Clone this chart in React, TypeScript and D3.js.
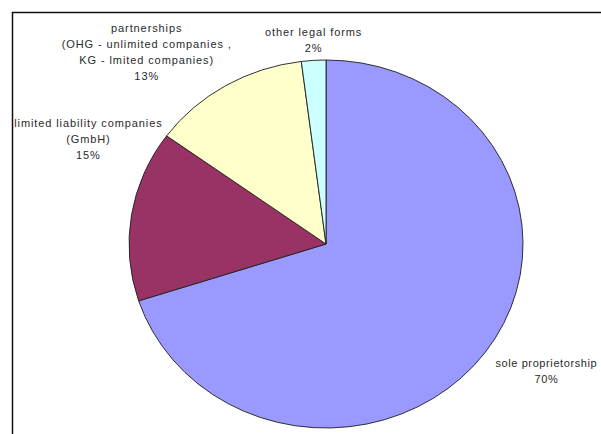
import React, { useEffect, useRef } from "react";
import * as d3 from "d3";

// legal forms, clockwise from 12 o'clock
const categories = [
  "sole proprietorship",
  "limited liability companies",
  "partnerships",
  "other legal forms",
];
const shares = [70, 15, 13, 2];
const labelLines = [
  ["sole proprietorship", "70%"],
  ["limited liability companies", "(GmbH)", "15%"],
  ["partnerships", "(OHG - unlimited companies ,", "KG - lmited companies)", "13%"],
  ["other legal forms", "2%"],
];
const colors = ["#9999ff", "#993366", "#ffffcc", "#ccffff"];

const W = 601;
const H = 434;

const App: React.FC = () => {
  const svgRef = useRef<SVGSVGElement>(null);

  useEffect(() => {
    if (!svgRef.current) return;
    const svg = d3.select(svgRef.current);
    svg.selectAll("*").remove();

    svg.append("rect").attr("width", W).attr("height", H).attr("fill", "#fff");

    // chart frame (only top and left edges are visible)
    svg.append("path")
      .attr("d", `M12.5,${H} L12.5,12.5 L${W},12.5`)
      .attr("fill", "none")
      .attr("stroke", "#111")
      .attr("stroke-width", 1.5);

    const cx = 326;
    const cy = 244;
    const r = 184;
    const sx = 197 / 184; // the pie is slightly wider than tall

    const pie = d3.pie<number>().sort(null).value(d => d);
    const arcs = pie(shares);
    const arc = d3.arc<d3.PieArcDatum<number>>().innerRadius(0).outerRadius(r);

    const g = svg.append("g")
      .attr("transform", `translate(${cx},${cy}) scale(${sx},1)`);

    g.selectAll("path")
      .data(arcs)
      .enter()
      .append("path")
      .attr("d", arc)
      .attr("fill", (_, i) => colors[i])
      .attr("stroke", "#222")
      .attr("stroke-width", 0.9)
      .attr("stroke-linejoin", "round");

    // label placement relative to the outer edge at each slice's mid-angle
    const offsets = [
      { dx: 61, dy: 11, step: 16, ls: 0.6 },
      { dx: -43, dy: -92, step: 16, ls: 0.9 },
      { dx: -79, dy: -57, step: 15.7, ls: 0.9 },
      { dx: 0, dy: -28, step: 16, ls: 0.9 },
    ];

    arcs.forEach((a, i) => {
      const mid = (a.startAngle + a.endAngle) / 2;
      const ex = cx + Math.sin(mid) * r * sx;
      const ey = cy - Math.cos(mid) * r;
      const o = offsets[i];
      const lines = labelLines[i];
      const t = svg.append("text")
        .attr("text-anchor", "middle")
        .attr("font-family", "'Liberation Sans', Arial, sans-serif")
        .attr("font-size", "11px")
        .attr("letter-spacing", `${o.ls}px`)
        .attr("fill", "#2a2a2a");
      lines.forEach((line, j) => {
        t.append("tspan")
          .attr("x", ex + o.dx)
          .attr("y", ey + o.dy + j * o.step)
          .attr("dy", "0.35em")
          .text(line);
      });
      t.attr("aria-label", categories[i]);
    });
  }, []);

  return (
    <svg
      ref={svgRef}
      width={W}
      height={H}
      style={{ position: "absolute", left: 0, top: 0, display: "block" }}
    />
  );
};

export default App;
